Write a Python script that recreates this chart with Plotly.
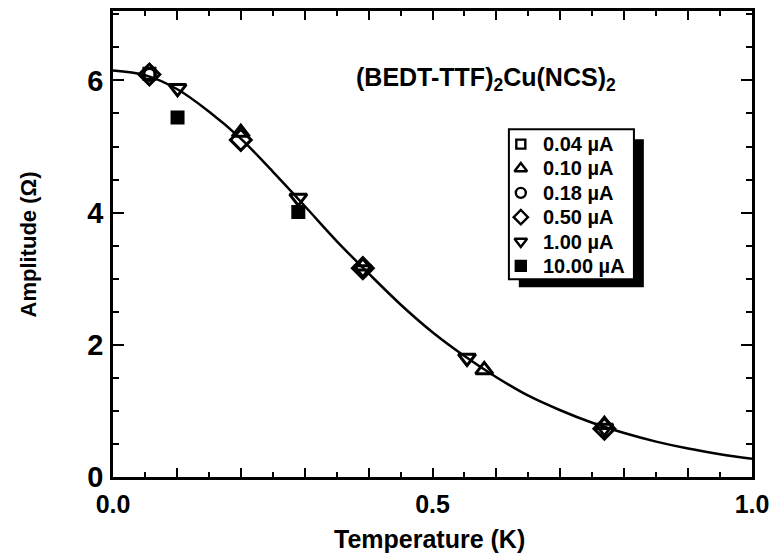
import plotly.graph_objects as go

# Measured amplitude vs temperature for each drive current
series_labels = ["0.04 µA", "0.10 µA", "0.18 µA", "0.50 µA", "1.00 µA", "10.00 µA"]
series_symbols = ["square-open", "triangle-up-open", "circle-open", "diamond-open",
                  "triangle-down-open", "square"]

t_004 = [0.057]
a_004 = [6.10]
t_010 = [0.200, 0.391, 0.581, 0.769]
a_010 = [5.21, 3.19, 1.62, 0.79]
t_018 = [0.057]
a_018 = [6.09]
t_050 = [0.057, 0.200, 0.391, 0.769]
a_050 = [6.09, 5.10, 3.16, 0.73]
t_100 = [0.101, 0.290, 0.391, 0.554, 0.769]
a_100 = [5.88, 4.22, 3.14, 1.80, 0.74]
t_1000 = [0.101, 0.290]
a_1000 = [5.44, 4.01]

# Fitted curve
fit_t = [0.00, 0.05, 0.10, 0.15, 0.20, 0.25, 0.30, 0.35, 0.40, 0.45, 0.50,
         0.55, 0.60, 0.65, 0.70, 0.75, 0.80, 0.85, 0.90, 0.95, 1.00]
fit_a = [6.15, 6.08, 5.87, 5.53, 5.12, 4.62, 4.10, 3.57, 3.08, 2.61, 2.19,
         1.83, 1.51, 1.23, 1.01, 0.82, 0.665, 0.535, 0.43, 0.345, 0.275]

x_ticks = [0.0, 0.1, 0.2, 0.3, 0.4, 0.5, 0.6, 0.7, 0.8, 0.9, 1.0]
x_ticktext = ["<b>0.0</b>", "", "", "", "", "<b>0.5</b>", "", "", "", "", "<b>1.0</b>"]
y_ticks = [0, 2, 4, 6]
y_ticktext = ["<b>0</b>", "<b>2</b>", "<b>4</b>", "<b>6</b>"]

FONT = "Liberation Sans, Arial, sans-serif"
W, H = 777, 558
L, R, T, B = 113, 20, 8, 81
PW, PH = W - L - R, H - T - B


def px_x(p):
    return (p - L) / PW


def px_y(p):
    return (H - B - p) / PH


fig = go.Figure()

fig.add_trace(go.Scatter(x=fit_t, y=fit_a, mode="lines", line=dict(color="black", width=2.5, shape="spline"),
                         showlegend=False, hoverinfo="skip"))

data = [(t_004, a_004), (t_010, a_010), (t_018, a_018), (t_050, a_050), (t_100, a_100), (t_1000, a_1000)]
sizes = [11, 15, 12, 16, 15, 11]
for (tx, ay), sym, lab, sz in zip(data, series_symbols, series_labels, sizes):
    fig.add_trace(go.Scatter(x=tx, y=ay, mode="markers", name=lab,
                             marker=dict(symbol=sym, size=sz, color="black",
                                         line=dict(color="black", width=3)),
                             showlegend=False))

# Legend box with drop shadow (kept beneath the key symbols)
box_l, box_r, box_t, box_b = 512, 638, 127, 278
shadow = 10
fig.add_shape(type="rect", xref="paper", yref="paper",
              x0=px_x(box_l + shadow), x1=px_x(box_r + shadow),
              y0=px_y(box_b + shadow - 2), y1=px_y(box_t + shadow),
              fillcolor="black", line=dict(width=0), layer="below")
fig.add_shape(type="rect", xref="paper", yref="paper",
              x0=px_x(box_l), x1=px_x(box_r), y0=px_y(box_b), y1=px_y(box_t),
              fillcolor="white", line=dict(color="black", width=2), layer="below")

row0, row_step = 142, 24.5
key_x = px_x(524)
key_y = [px_y(row0 + i * row_step) for i in range(len(series_labels))]
key_sizes = [9, 11, 10, 11, 11, 10]
for i, (sym, lab) in enumerate(zip(series_symbols, series_labels)):
    fig.add_trace(go.Scatter(x=[key_x], y=[key_y[i]], xaxis="x2", yaxis="y2", mode="markers",
                             marker=dict(symbol=sym, size=key_sizes[i], color="black",
                                         line=dict(color="black", width=2.4)),
                             showlegend=False, hoverinfo="skip"))
    fig.add_annotation(xref="paper", yref="paper", x=px_x(544), y=key_y[i], text="<b>%s</b>" % lab,
                       showarrow=False, xanchor="left", yanchor="middle",
                       font=dict(family=FONT, size=20, color="black"))

# Compound label
fig.add_annotation(xref="paper", yref="paper", x=px_x(489), y=px_y(76),
                   text="<b>(BEDT-TTF)<sub>2</sub>Cu(NCS)<sub>2</sub></b>", showarrow=False,
                   xanchor="center", yanchor="middle", font=dict(family=FONT, size=25, color="black"))

# Axis titles
fig.add_annotation(xref="paper", yref="paper", x=px_x(432), y=0, yanchor="middle", yshift=-62,
                   text="<b>Temperature (K)</b>", showarrow=False,
                   font=dict(family=FONT, size=25, color="black"))
fig.add_annotation(xref="paper", yref="paper", x=0, y=px_y(243), xanchor="center", xshift=-85,
                   text="<b>Amplitude (Ω)</b>", textangle=-90, showarrow=False,
                   font=dict(family=FONT, size=22, color="black"))

axis_common = dict(showline=True, linecolor="black", linewidth=2.5, mirror="ticks",
                   showgrid=False, zeroline=False, ticks="inside", tickcolor="black")

fig.update_layout(
    width=W, height=H,
    margin=dict(l=L, r=R, t=T, b=B),
    paper_bgcolor="white", plot_bgcolor="white",
    xaxis=dict(range=[0, 1.0], tickmode="array", tickvals=x_ticks, ticktext=x_ticktext,
               ticklen=9, tickwidth=2, ticklabelstandoff=3,
               tickfont=dict(family=FONT, size=25, color="black"),
               minor=dict(dtick=0.05, ticks="inside", ticklen=5, tickwidth=2, tickcolor="black", showgrid=False),
               **axis_common),
    yaxis=dict(range=[0, 7.05], tickmode="array", tickvals=y_ticks, ticktext=y_ticktext,
               ticklen=11, tickwidth=2, ticklabelstandoff=1,
               tickfont=dict(family=FONT, size=29, color="black"),
               minor=dict(dtick=0.5, ticks="inside", ticklen=6, tickwidth=2, tickcolor="black", showgrid=False),
               **axis_common),
    xaxis2=dict(overlaying="x", range=[0, 1], visible=False, fixedrange=True),
    yaxis2=dict(overlaying="y", range=[0, 1], visible=False, fixedrange=True),
    showlegend=False,
)

fig.write_html("out.html")
